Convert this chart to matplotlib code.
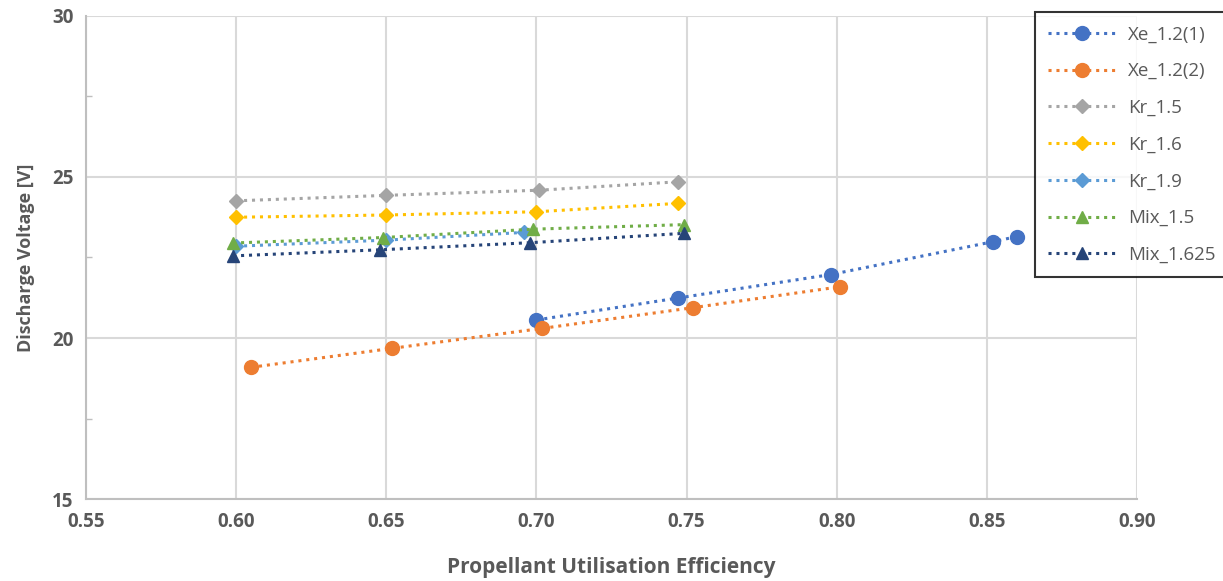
import numpy as np
import matplotlib
matplotlib.use("Agg")
import matplotlib.pyplot as plt
from matplotlib.ticker import MultipleLocator

plt.rcParams["font.family"] = ["Open Sans", "DejaVu Sans"]

# ── Data ─────────────────────────────────────────────────────────────────
xe1_x = [0.700, 0.747, 0.798, 0.852, 0.860]
xe1_y = [20.56, 21.24, 21.97, 22.99, 23.15]

xe2_x = [0.605, 0.652, 0.702, 0.752, 0.801]
xe2_y = [19.09, 19.68, 20.30, 20.94, 21.59]

kr15_x = [0.600, 0.650, 0.701, 0.747]
kr15_y = [24.26, 24.43, 24.59, 24.85]

kr16_x = [0.600, 0.650, 0.700, 0.747]
kr16_y = [23.75, 23.82, 23.92, 24.18]

kr19_x = [0.600, 0.650, 0.696]
kr19_y = [22.85, 23.04, 23.28]

mix15_x = [0.599, 0.649, 0.699, 0.749]
mix15_y = [22.95, 23.12, 23.38, 23.52]

mix1625_x = [0.599, 0.648, 0.698, 0.749]
mix1625_y = [22.55, 22.74, 22.96, 23.25]

series = [
    ("Xe_1.2(1)", xe1_x, xe1_y, "#4472C4", "o", 10),
    ("Xe_1.2(2)", xe2_x, xe2_y, "#ED7D31", "o", 10),
    ("Kr_1.5", kr15_x, kr15_y, "#A5A5A5", "D", 7),
    ("Kr_1.6", kr16_x, kr16_y, "#FFC000", "D", 7),
    ("Kr_1.9", kr19_x, kr19_y, "#5B9BD5", "D", 7),
    ("Mix_1.5", mix15_x, mix15_y, "#70AD47", "^", 9),
    ("Mix_1.625", mix1625_x, mix1625_y, "#264478", "^", 9),
]

GRID = "#d9d9d9"
TXT = "#595959"

fig = plt.figure(figsize=(12.23, 5.81), dpi=100)
ax = fig.add_axes([0.0703, 0.1411, 0.8594, 0.8314])

for label, xs, ys, color, marker, ms in series:
    ax.plot(xs, ys, linestyle=(0, (1, 1.6)), linewidth=2.2, color=color,
            marker=marker, markersize=ms, label=label, zorder=3)

ax.set_xlim(0.55, 0.90)
ax.set_ylim(15, 30)
ax.xaxis.set_major_locator(MultipleLocator(0.05))
ax.yaxis.set_major_locator(MultipleLocator(5))
ax.yaxis.set_minor_locator(MultipleLocator(2.5))
ax.set_xticklabels([f"{v:.2f}" for v in ax.get_xticks()])

ax.grid(True, which="major", color=GRID, linewidth=1.5, zorder=0)
for side in ("top", "right"):
    ax.spines[side].set_visible(False)
for side in ("left", "bottom"):
    ax.spines[side].set_color("#bfbfbf")
    ax.spines[side].set_linewidth(1.5)

ax.tick_params(axis="both", which="major", length=0, labelsize=13.5,
               labelcolor=TXT, pad=9)
ax.tick_params(axis="y", which="minor", direction="in", length=4,
               color="#bfbfbf", width=1)
for lbl in ax.get_xticklabels() + ax.get_yticklabels():
    lbl.set_fontweight("bold")

ax.set_xlabel("Propellant Utilisation Efficiency", fontsize=15,
              fontweight="bold", color=TXT, labelpad=18)
ax.set_ylabel("Discharge Voltage [V]", fontsize=13, fontweight="bold",
              color=TXT, labelpad=12)

leg = fig.legend(loc="upper left", bbox_to_anchor=(0.846, 0.979),
                 fontsize=13.5, handlelength=3.6, handletextpad=0.7,
                 labelspacing=1.0, borderpad=0.7, frameon=True,
                 fancybox=False, borderaxespad=0)
leg.get_frame().set_edgecolor("black")
leg.get_frame().set_linewidth(1.5)
for t in leg.get_texts():
    t.set_color(TXT)

fig.savefig("out.png", dpi=100)
